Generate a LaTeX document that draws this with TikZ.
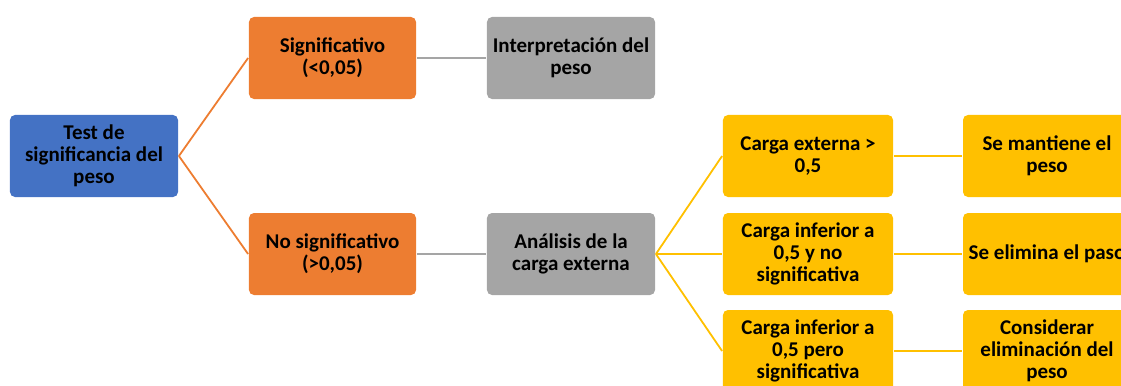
\documentclass[tikz,border=0pt]{standalone}
\usepackage{fontspec}
\setmainfont{Carlito}
\definecolor{boxblue}{HTML}{4472C4}
\definecolor{boxorange}{HTML}{ED7D31}
\definecolor{boxgray}{HTML}{A5A5A5}
\definecolor{boxyellow}{HTML}{FFC000}
\def\s{0.035146}
\def\punkt#1#2{({(#1)*\s},{-(#2)*\s})}
\tikzset{kasten/.style={rounded corners=5pt,minimum width=168pt,minimum height=82pt,
  align=center,inner sep=1pt,font=\fontsize{21}{22}\selectfont\bfseries}}

\begin{document}
\begin{tikzpicture}[line width=1.8pt]
\useasboundingbox \punkt{0}{0} rectangle \punkt{1121}{385};
\clip \punkt{0}{0} rectangle \punkt{1121}{385};
% Wurzel und erste Ebene
\node[kasten,fill=boxblue] (test) at \punkt{94}{156} {Test de\\significancia del\\peso};
\node[kasten,fill=boxorange,minimum width=167pt] (sig) at \punkt{332.5}{58} {Significativo\\(<0,05)};
\node[kasten,fill=boxorange,minimum width=167pt] (nosig) at \punkt{332.5}{254} {No significativo\\(>0,05)};
\node[kasten,fill=boxgray] (interp) at \punkt{571}{58} {Interpretación del\\peso};
\node[kasten,fill=boxgray] (analisis) at \punkt{571}{254} {Análisis de la\\carga externa};
% Carga
\node[kasten,fill=boxyellow,minimum width=170pt] (carga1) at \punkt{808}{156} {Carga externa >\\0,5};
\node[kasten,fill=boxyellow,minimum width=170pt] (carga2) at \punkt{808}{254} {Carga inferior a\\0,5 y no\\significativa};
\node[kasten,fill=boxyellow,minimum width=170pt] (carga3) at \punkt{808}{351} {Carga inferior a\\0,5 pero\\significativa};
\node[kasten,fill=boxyellow] (mantiene) at \punkt{1047}{156} {Se mantiene el\\peso};
\node[kasten,fill=boxyellow] (elimina) at \punkt{1047}{254} {Se elimina el paso};
\node[kasten,fill=boxyellow] (considerar) at \punkt{1047}{351} {Considerar\\eliminación del\\peso};
% Verbindungen
\draw[color=boxorange] (test.east) -- (sig.west);
\draw[color=boxorange] (test.east) -- (nosig.west);
\draw[color=boxgray] (sig.east) -- (interp.west);
\draw[color=boxgray] (nosig.east) -- (analisis.west);
\foreach \c in {carga1,carga2,carga3}{
	\draw[color=boxyellow] (analisis.east) -- (\c.west);
}
\draw[color=boxyellow] (carga1.east) -- (mantiene.west);
\draw[color=boxyellow] (carga2.east) -- (elimina.west);
\draw[color=boxyellow] (carga3.east) -- (considerar.west);
\end{tikzpicture}
\end{document}
